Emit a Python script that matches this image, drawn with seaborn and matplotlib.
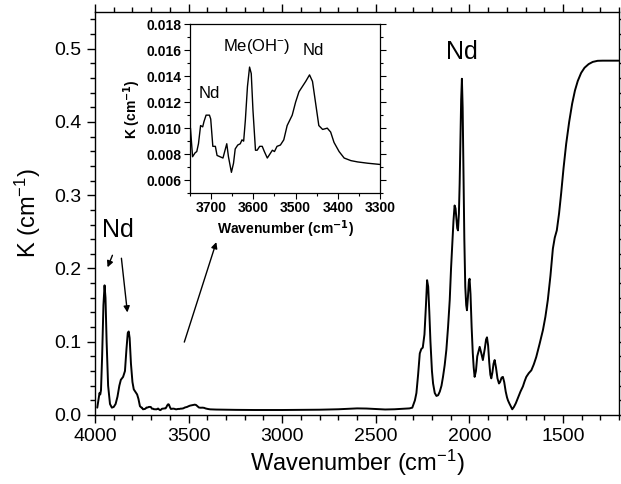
import matplotlib
matplotlib.use("Agg")
import matplotlib.pyplot as plt
from matplotlib.ticker import MultipleLocator
import pandas as pd
import seaborn as sns

# Absorption spectrum K(wavenumber), stored as (wavenumber, K) pairs per spectral region
nd_bands_3900 = [
    (3988, 0.010), (3982, 0.020), (3976, 0.030), (3972, 0.028), (3968, 0.034),
    (3962, 0.080), (3955, 0.150), (3949, 0.177), (3944, 0.160), (3938, 0.100),
    (3930, 0.040), (3920, 0.015), (3910, 0.010), (3900, 0.011), (3890, 0.015),
    (3880, 0.025), (3870, 0.040), (3862, 0.048), (3850, 0.052), (3840, 0.060),
    (3832, 0.090), (3825, 0.112), (3820, 0.114), (3815, 0.105), (3808, 0.070),
    (3800, 0.045), (3793, 0.035), (3785, 0.032), (3775, 0.028), (3768, 0.022),
    (3760, 0.012), (3752, 0.010),
]
oh_region = [
    (3749, 0.0100), (3744, 0.0078), (3738, 0.0081), (3734, 0.0082), (3730, 0.0088),
    (3725, 0.0102), (3720, 0.0101), (3717, 0.0105), (3712, 0.0110), (3704, 0.0110),
    (3701, 0.0107), (3696, 0.0086), (3690, 0.0086), (3686, 0.0079), (3679, 0.0078),
    (3672, 0.0077), (3668, 0.0082), (3663, 0.0088), (3659, 0.0078), (3652, 0.0066),
    (3647, 0.0073), (3643, 0.0084), (3637, 0.0087), (3631, 0.0088), (3627, 0.0091),
    (3623, 0.0090), (3619, 0.0106), (3614, 0.0132), (3609, 0.0147), (3605, 0.0142),
    (3601, 0.0114), (3595, 0.0083), (3591, 0.0083), (3585, 0.0086), (3579, 0.0086),
    (3574, 0.0082), (3567, 0.0077), (3561, 0.0080), (3555, 0.0083), (3550, 0.0082),
    (3544, 0.0086), (3536, 0.0087), (3528, 0.0091), (3520, 0.0102), (3508, 0.0110),
    (3500, 0.0120), (3492, 0.0128), (3484, 0.0132), (3476, 0.0136), (3467, 0.0141),
    (3460, 0.0136), (3452, 0.0118), (3445, 0.0102), (3436, 0.0099), (3425, 0.0100),
    (3417, 0.0097), (3409, 0.0089), (3397, 0.0082), (3385, 0.0077), (3369, 0.0075),
    (3353, 0.0074), (3329, 0.0073), (3298, 0.0072),
]
baseline = [
    (3250, 0.0070), (3150, 0.0068), (3000, 0.0068), (2900, 0.0070), (2800, 0.0072),
    (2700, 0.0078), (2600, 0.0090), (2550, 0.0088), (2450, 0.0075), (2400, 0.0078),
    (2350, 0.0085), (2320, 0.0090), (2305, 0.0100),
]
nd_bands_2000 = [
    (2291, 0.020), (2283, 0.030), (2274, 0.055), (2265, 0.084), (2257, 0.090),
    (2249, 0.092), (2240, 0.110), (2232, 0.150), (2226, 0.184), (2220, 0.175),
    (2214, 0.140), (2208, 0.100), (2200, 0.060), (2194, 0.043), (2185, 0.030),
    (2176, 0.026), (2167, 0.027), (2158, 0.032), (2149, 0.040), (2141, 0.052),
    (2132, 0.068), (2123, 0.089), (2114, 0.120), (2105, 0.157), (2098, 0.200),
    (2091, 0.234), (2085, 0.265), (2079, 0.286), (2074, 0.282), (2070, 0.270),
    (2065, 0.255), (2061, 0.252), (2056, 0.275), (2052, 0.316), (2048, 0.370),
    (2044, 0.430), (2040, 0.459), (2036, 0.420), (2032, 0.340), (2027, 0.240),
    (2022, 0.175), (2017, 0.150), (2013, 0.143), (2008, 0.160), (2003, 0.182),
    (1999, 0.186), (1994, 0.165), (1988, 0.120), (1982, 0.085), (1977, 0.065),
    (1972, 0.052), (1965, 0.060), (1958, 0.080), (1950, 0.088), (1945, 0.093),
    (1937, 0.085), (1928, 0.075), (1918, 0.090), (1911, 0.103), (1906, 0.106),
    (1900, 0.095), (1894, 0.072), (1888, 0.055), (1883, 0.050), (1877, 0.058),
    (1871, 0.070), (1865, 0.075), (1858, 0.065), (1850, 0.050), (1842, 0.043),
    (1836, 0.045), (1828, 0.051), (1821, 0.052), (1814, 0.045), (1806, 0.032),
    (1799, 0.024), (1794, 0.020), (1787, 0.016), (1779, 0.012), (1771, 0.0078),
]
absorption_edge = [
    (1762, 0.011), (1752, 0.016), (1741, 0.023), (1727, 0.032), (1714, 0.039),
    (1705, 0.046), (1696, 0.052), (1683, 0.057), (1669, 0.061), (1656, 0.069),
    (1643, 0.079), (1625, 0.097), (1607, 0.116), (1594, 0.134), (1581, 0.157),
    (1567, 0.190), (1554, 0.227), (1544, 0.242), (1533, 0.252), (1521, 0.275),
    (1510, 0.302), (1497, 0.337), (1483, 0.370), (1467, 0.400), (1451, 0.425),
    (1436, 0.443), (1421, 0.456), (1403, 0.467), (1385, 0.474), (1363, 0.479),
    (1341, 0.482), (1315, 0.4835), (1288, 0.4837), (1250, 0.4837), (1203, 0.4837),
]

spectrum = pd.DataFrame(
    nd_bands_3900 + oh_region + baseline + nd_bands_2000 + absorption_edge,
    columns=["wavenumber", "K"],
)

main_xticks = [4000, 3500, 3000, 2500, 2000, 1500]
main_yticks = [0.0, 0.1, 0.2, 0.3, 0.4, 0.5]
inset_xticks = [3700, 3600, 3500, 3400, 3300]
inset_yticks = [0.006, 0.008, 0.010, 0.012, 0.014, 0.016, 0.018]

sns.set_style("ticks")
plt.rcParams["font.family"] = ["Liberation Sans", "DejaVu Sans"]
plt.rcParams["mathtext.default"] = "regular"
for key in ("text.color", "axes.labelcolor", "xtick.color", "ytick.color",
            "axes.edgecolor"):
    plt.rcParams[key] = "black"

fig = plt.figure(figsize=(6.21, 4.84), dpi=100)
ax = fig.add_axes([0.153, 0.1426, 0.844, 0.8324])

sns.lineplot(data=spectrum, x="wavenumber", y="K", ax=ax, color="black",
             linewidth=1.4, estimator=None, sort=False)
ax.set_xlim(4000, 1200)
ax.set_ylim(0, 0.55)
ax.set_xticks(main_xticks)
ax.set_yticks(main_yticks)
ax.set_yticklabels([f"{v:.1f}" for v in main_yticks])
ax.xaxis.set_minor_locator(MultipleLocator(100))
ax.yaxis.set_minor_locator(MultipleLocator(0.02))
ax.tick_params(which="both", direction="out", top=True, right=True,
               labelsize=14, color="black", labelcolor="black", width=1.0)
ax.tick_params(which="major", length=6)
ax.tick_params(which="minor", length=3.5)
for s in ax.spines.values():
    s.set_linewidth(1.0)
    s.set_color("black")
ax.set_xlabel(r"Wavenumber (cm$^{-1}$)", fontsize=17, labelpad=2, color="black")
ax.set_ylabel(r"K (cm$^{-1}$)", fontsize=17, labelpad=8, color="black")

# Peak labels and arrows
ax.text(3880, 0.252, "Nd", fontsize=18, ha="center", va="center", color="black")
ax.text(2041, 0.495, "Nd", fontsize=18, ha="center", va="center", color="black")
arrow = dict(arrowstyle="-|>", color="black", lw=1.0, mutation_scale=9,
             shrinkA=0, shrinkB=0)
ax.annotate("", xy=(3933, 0.2016), xytext=(3907, 0.218), arrowprops=arrow)
ax.annotate("", xy=(3827, 0.140), xytext=(3859, 0.214), arrowprops=arrow)
ax.annotate("", xy=(3352, 0.236), xytext=(3523, 0.0995), arrowprops=arrow)

# Inset: the 3750-3300 cm-1 region
ins = fig.add_axes([0.306, 0.601, 0.306, 0.349])
sns.lineplot(data=spectrum, x="wavenumber", y="K", ax=ins, color="black",
             linewidth=1.0, estimator=None, sort=False)
ins.set_xlim(3750, 3300)
ins.set_ylim(0.005, 0.018)
ins.set_xticks(inset_xticks)
ins.set_yticks(inset_yticks)
ins.set_yticklabels([f"{v:.3f}" for v in inset_yticks])
ins.xaxis.set_minor_locator(MultipleLocator(50))
ins.yaxis.set_minor_locator(MultipleLocator(0.001))
ins.tick_params(which="both", direction="out", right=True, labelsize=10,
                color="black", labelcolor="black", width=0.8, pad=2)
ins.tick_params(which="major", length=4)
ins.tick_params(which="minor", length=2.5)
for lab in ins.get_xticklabels() + ins.get_yticklabels():
    lab.set_fontweight("bold")
for s in ins.spines.values():
    s.set_linewidth(0.9)
    s.set_color("black")
ins.set_xlabel(r"Wavenumber (cm$^{\mathbf{-1}}$)", fontsize=10, fontweight="bold",
               labelpad=2, color="black")
ins.set_ylabel(r"K (cm$^{\mathbf{-1}}$)", fontsize=10, fontweight="bold",
               labelpad=3, color="black")
ins.text(3705, 0.0127, "Nd", fontsize=12, ha="center", va="center", color="black")
ins.text(3593, 0.0163, r"Me(OH$^{-}$)", fontsize=12, ha="center", va="center", color="black")
ins.text(3457, 0.0160, "Nd", fontsize=12, ha="center", va="center", color="black")

fig.savefig("out.png", dpi=100)
